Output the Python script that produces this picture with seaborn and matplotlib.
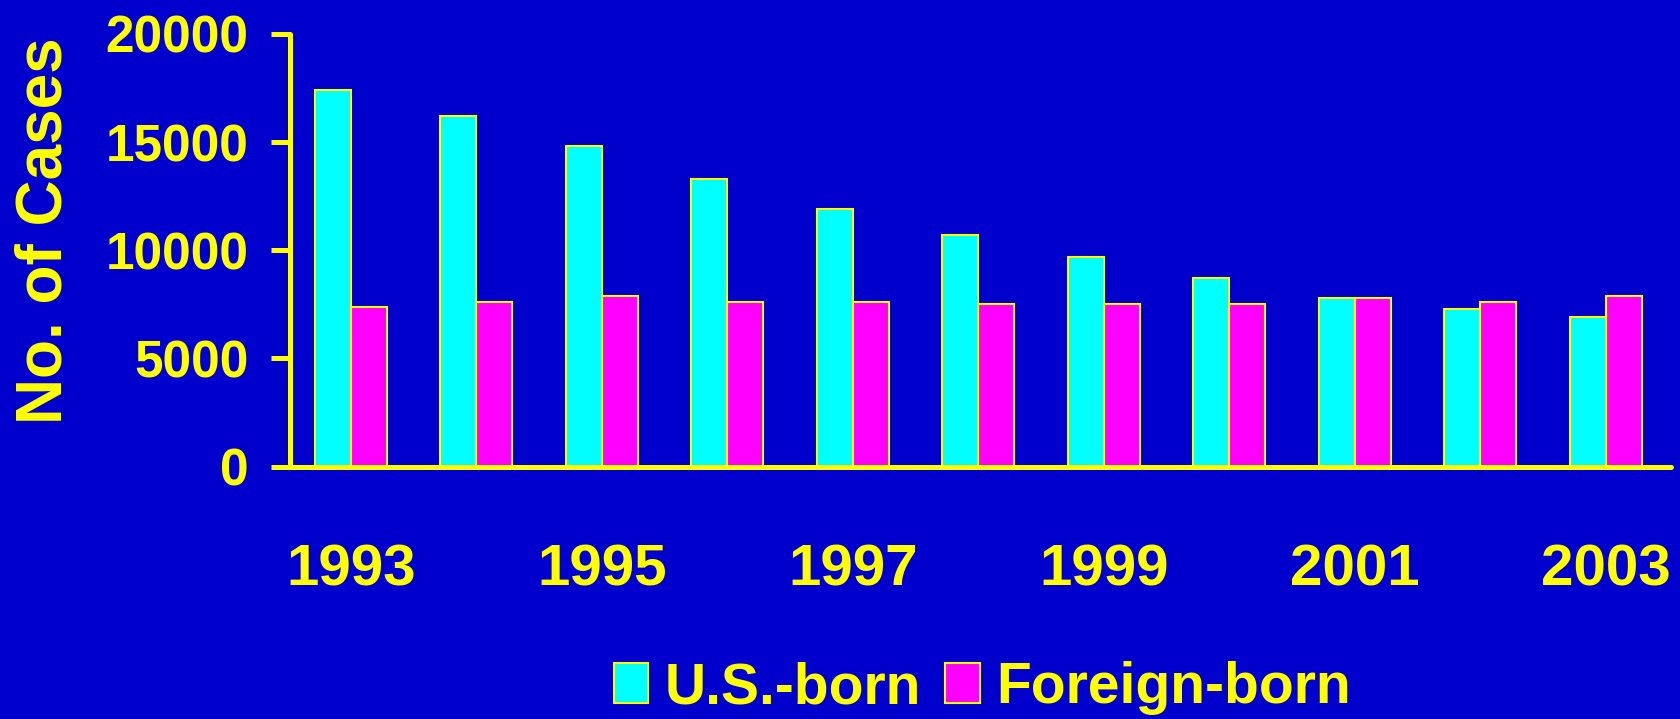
import pandas as pd
import matplotlib
matplotlib.use('Agg')
import matplotlib.pyplot as plt
import seaborn as sns

# Datos
years = ['1993', '1994', '1995', '1996', '1997', '1998', '1999', '2000', '2001', '2002', '2003']
us_born = [17400, 16200, 14800, 13300, 11900, 10700, 9700, 8700, 7800, 7300, 6900]
foreign_born = [7400, 7600, 7900, 7600, 7600, 7500, 7500, 7500, 7800, 7600, 7900]
groups = ['U.S.-born', 'Foreign-born']
yticks = [0, 5000, 10000, 15000, 20000]

bg = '#0000CC'
yellow = '#FFFF00'
palette = {'U.S.-born': '#00FFFF', 'Foreign-born': '#FF00FF'}

df = pd.DataFrame({
    'year': years * 2,
    'group': [groups[0]] * len(years) + [groups[1]] * len(years),
    'cases': us_born + foreign_born,
})

sns.set_style('white')
plt.rcParams['font.family'] = ['Liberation Sans', 'DejaVu Sans']
plt.rcParams['font.weight'] = 'bold'

fig = plt.figure(figsize=(16.81, 7.19), dpi=100, facecolor=bg)
ax = fig.add_axes([0.1725, 0.351, 0.8215, 0.6018])
ax.set_facecolor(bg)

sns.barplot(data=df, x='year', y='cases', hue='group', hue_order=groups,
            palette=palette, width=0.574, gap=0, edgecolor=yellow, linewidth=1.5,
            saturation=1, ax=ax, legend=False)

ax.set_xlim(-0.486, 10.52)
ax.set_ylim(0, 20000)

# Ejes
for s in ['top', 'right']:
    ax.spines[s].set_visible(False)
for s in ['left', 'bottom']:
    ax.spines[s].set_color(yellow)
    ax.spines[s].set_linewidth(3.6)
    ax.spines[s].set_capstyle('round')

ax.set_xticks(range(0, len(years), 2))
ax.set_xticklabels(years[::2], fontsize=42, color=yellow, fontweight='bold')
ax.tick_params(axis='x', bottom=False, length=0, pad=55)

ax.set_yticks(yticks)
ax.set_yticklabels([str(v) for v in yticks], fontsize=37, color=yellow, fontweight='bold')
ax.tick_params(axis='y', left=True, length=13.7, width=3.6, color=yellow, pad=16)
for t in ax.yaxis.get_ticklines():
    t.set_solid_capstyle('round')

ax.set_xlabel('')
ax.set_ylabel('No. of Cases', fontsize=46, color=yellow, fontweight='bold')
ax.yaxis.set_label_coords(-0.178, 0.545)
ax.yaxis.label.set_verticalalignment('center')

# Leyenda
handles = [plt.Rectangle((0, 0), 1, 1, facecolor=palette[g], edgecolor=yellow, linewidth=1.5)
           for g in groups]
leg = fig.legend(handles, groups, loc='center', bbox_to_anchor=(0.5845, 1 - 688 / 719),
                 ncol=2, frameon=False, fontsize=41, handlelength=0.6, handleheight=0.72,
                 handletextpad=0.3, columnspacing=0.42, borderpad=0)
for t in leg.get_texts():
    t.set_color(yellow)
    t.set_fontweight('bold')

plt.savefig('out.png', dpi=100, facecolor=bg)
